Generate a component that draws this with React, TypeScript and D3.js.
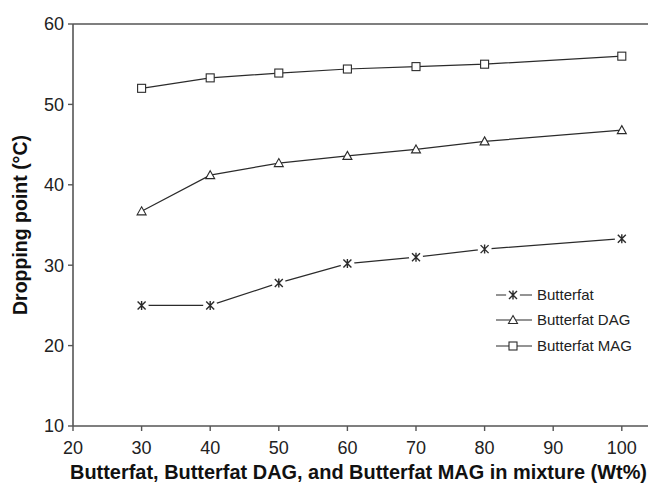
import React from "react";
import * as d3 from "d3";

const mixtureWt = [30, 40, 50, 60, 70, 80, 100];
const butterfat = [25.0, 25.0, 27.8, 30.2, 31.0, 32.0, 33.3];
const butterfatDAG = [36.7, 41.2, 42.7, 43.6, 44.4, 45.4, 46.8];
const butterfatMAG = [52.0, 53.3, 53.9, 54.4, 54.7, 55.0, 56.0];
const xTicks = [20, 30, 40, 50, 60, 70, 80, 90, 100];
const yTicks = [10, 20, 30, 40, 50, 60];
const seriesNames = ["Butterfat", "Butterfat DAG", "Butterfat MAG"];

const W = 648;
const H = 492;
const left = 73;
const top = 24;
const bottom = 426;

const x = d3.scaleLinear().domain([20, 110]).range([left, left + 9 * 68.6]);
const y = d3.scaleLinear().domain([10, 60]).range([bottom, top]);

const ink = "#2b2b2b";
const axisInk = "#555";
const font = "Liberation Sans, Arial, Helvetica, sans-serif";

type Kind = "star" | "tri" | "sq";

function Marker({ kind, cx, cy }: { kind: Kind; cx: number; cy: number }) {
  if (kind === "sq") {
    return <rect x={cx - 4} y={cy - 4} width={8} height={8} fill="#fff" stroke={ink} strokeWidth={1.1} />;
  }
  if (kind === "tri") {
    const p = `M${cx},${cy - 4.5}L${cx + 4.5},${cy + 3.5}L${cx - 4.5},${cy + 3.5}Z`;
    return <path d={p} fill="#fff" stroke={ink} strokeWidth={1.1} />;
  }
  const r = 4;
  return (
    <g>
      <circle cx={cx} cy={cy} r={7} fill="#fff" />
      <path
        d={`M${cx - r},${cy - r}L${cx + r},${cy + r}M${cx - r},${cy + r}L${cx + r},${cy - r}M${cx},${cy - r - 0.5}L${cx},${cy + r + 0.5}`}
        stroke={ink}
        strokeWidth={1.4}
        fill="none"
      />
    </g>
  );
}

const series: { name: string; values: number[]; kind: Kind }[] = [
  { name: seriesNames[0], values: butterfat, kind: "star" },
  { name: seriesNames[1], values: butterfatDAG, kind: "tri" },
  { name: seriesNames[2], values: butterfatMAG, kind: "sq" },
];

export default function App() {
  const line = d3
    .line<number>()
    .x((_, i) => x(mixtureWt[i]))
    .y((v) => y(v));

  const legendX = 496;
  const legendY = [295, 320, 346];

  return (
    <svg
      width={W}
      height={H}
      viewBox={`0 0 ${W} ${H}`}
      style={{ position: "absolute", left: 0, top: 0, background: "#fff" }}
      fontFamily={font}
    >
      <rect x={0} y={0} width={W} height={H} fill="#fff" />

      {/* frame: left axis, bottom axis, top border */}
      <line x1={left} y1={top} x2={left} y2={bottom} stroke={axisInk} strokeWidth={1.6} />
      <line x1={left} y1={bottom} x2={W} y2={bottom} stroke={axisInk} strokeWidth={1.6} />
      <line x1={left} y1={top} x2={W} y2={top} stroke={axisInk} strokeWidth={1.6} />

      {yTicks.map((t) => (
        <g key={`y${t}`}>
          <line x1={left - 5} x2={left} y1={y(t)} y2={y(t)} stroke={axisInk} strokeWidth={1.4} />
          <text x={left - 9} y={y(t)} dy="0.35em" textAnchor="end" fontSize={18} fill="#222">
            {t}
          </text>
        </g>
      ))}

      {xTicks.map((t) => (
        <g key={`x${t}`}>
          <line x1={x(t)} x2={x(t)} y1={bottom} y2={bottom + 5} stroke={axisInk} strokeWidth={1.4} />
          <text x={x(t)} y={448} dy="0.35em" textAnchor="middle" fontSize={18} fill="#222">
            {t}
          </text>
        </g>
      ))}

      {/* axis titles */}
      <text
        transform={`translate(27,${225}) rotate(-90)`}
        textAnchor="middle"
        fontSize={19.5}
        fontWeight="bold"
        fill="#111"
      >
        Dropping point (°C)
      </text>
      <text x={70} y={479} fontSize={19.5} fontWeight="bold" fill="#111" textLength={577} lengthAdjust="spacingAndGlyphs">
        Butterfat, Butterfat DAG, and Butterfat MAG in mixture (Wt%)
      </text>

      {/* series */}
      {series.map((s) => (
        <g key={s.name}>
          <path d={line(s.values) || ""} fill="none" stroke={ink} strokeWidth={1.2} />
          {s.values.map((v, i) => (
            <Marker key={i} kind={s.kind} cx={x(mixtureWt[i])} cy={y(v)} />
          ))}
        </g>
      ))}

      {/* legend */}
      {series.map((s, i) => (
        <g key={`lg${s.name}`}>
          <line x1={legendX} x2={legendX + 36} y1={legendY[i]} y2={legendY[i]} stroke={ink} strokeWidth={1.2} />
          <Marker kind={s.kind} cx={legendX + 17} cy={legendY[i]} />
          <text x={legendX + 41} y={legendY[i]} dy="0.35em" fontSize={15} fill="#222">
            {s.name}
          </text>
        </g>
      ))}
    </svg>
  );
}
